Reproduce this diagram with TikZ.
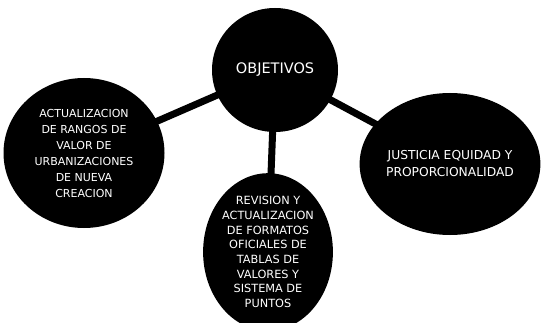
\documentclass[tikz,border=0pt]{standalone}
\usepackage{fontspec}
\setmainfont{DejaVu Sans}
\usepackage{tikz}
\usetikzlibrary{positioning, shapes.geometric, backgrounds}

\begin{document}
\begin{tikzpicture}[
    x=1pt, y=-1pt,
    bubble/.style={
        ellipse, fill=black, text=white, inner sep=0pt,
        align=center, font=\fontsize{11}{16}\selectfont
    },
    conn/.style={draw=black, line width=7pt}
]
\useasboundingbox (0,0) rectangle (543,323);

% objetivo central
\node[bubble, minimum width=126pt, minimum height=124pt,
      font=\fontsize{14.5}{16}\selectfont] (objetivos) at (275,70) {OBJETIVOS};

% los tres objetivos
\node[bubble, minimum width=161pt, minimum height=150pt] (rangos) at (84,153)
    {ACTUALIZACION\\DE RANGOS DE\\VALOR DE\\URBANIZACIONES\\DE NUEVA\\CREACION};
\node[bubble, minimum width=120pt, minimum height=138pt,
      font=\fontsize{11.3}{14.7}\selectfont] (revision) at (268,252)
    {REVISION Y\\ACTUALIZACION\\DE FORMATOS\\OFICIALES DE\\TABLAS DE\\VALORES Y\\SISTEMA DE\\PUNTOS};
\node[bubble, minimum width=176pt, minimum height=142pt,
      font=\fontsize{12.3}{17}\selectfont] (justicia) at (450,164)
    {JUSTICIA EQUIDAD Y\\PROPORCIONALIDAD};

% conectores
\begin{scope}[on background layer]
\draw[conn] (objetivos.center) -- (rangos.center);
\draw[conn] (objetivos.center) -- (revision.center);
\draw[conn] (objetivos.center) -- (justicia.center);
\end{scope}

\end{tikzpicture}
\end{document}
